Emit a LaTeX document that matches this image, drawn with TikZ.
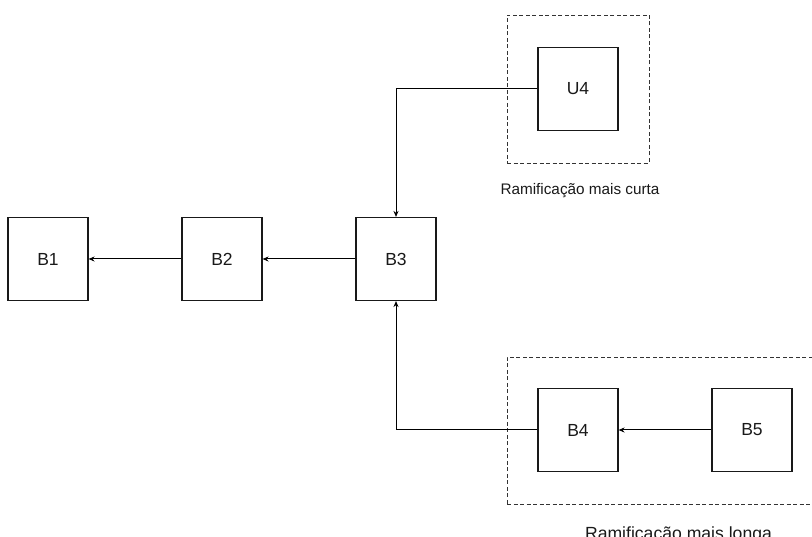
\documentclass[tikz,border=0pt]{standalone}
\usepackage{fontspec}
\setmainfont{Liberation Sans}
\usetikzlibrary{arrows.meta}
\begin{document}
\begin{tikzpicture}[x=1pt,y=-1pt,
  block/.style={draw=black!90, line width=1.1pt, minimum width=80pt, minimum height=83pt,
    inner sep=0pt, font=\fontsize{17.5}{20}\selectfont, text=black!90},
  groupbox/.style={draw=black!80, dashed, dash pattern=on 4pt off 2.5pt, line width=0.9pt,
    inner sep=0pt},
  link/.style={draw=black, line width=1pt, -{Stealth[length=6pt,width=5pt]}},
  caption/.style={text=black!90, inner sep=0pt, anchor=base}]
  \useasboundingbox (0,0) rectangle (812,537);

  % dashed group frames
  \node[groupbox, minimum width=142pt, minimum height=148pt] (short) at (578,89) {};
  \node[groupbox, minimum width=310pt, minimum height=147pt] (long) at (662,430.5) {};

  % blocks
  \node[block] (b1) at (48,259) {B1};
  \node[block] (b2) at (222,259) {B2};
  \node[block] (b3) at (396,259) {B3};
  \node[block] (u4) at (578,89) {U4};
  \node[block] (b4) at (578,430) {B4};
  \node[block] (b5) at (752,430) {B5};

  % group captions
  \node[caption, font=\fontsize{15.3}{18}\selectfont] (capshort) at (580,195) {Ramificação mais curta};
  \node[caption, font=\fontsize{17.6}{20}\selectfont] (caplong) at (678.5,539.5) {Ramificação mais longa};

  % connectors
  \draw[link] (b3.west) -- (b2.east);
  \draw[link] (b2.west) -- (b1.east);
  \draw[link] (u4.west) -| (b3.north);
  \draw[link] (b4.west) -| (b3.south);
  \draw[link] (b5.west) -- (b4.east);
\end{tikzpicture}
\end{document}
